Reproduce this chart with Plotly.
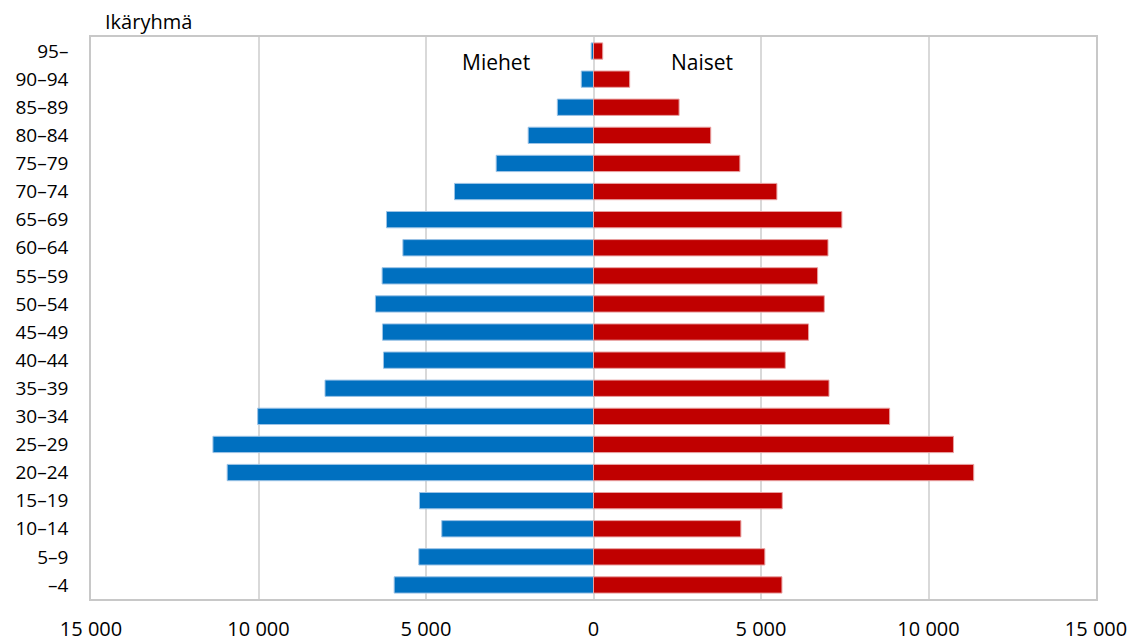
import plotly.graph_objects as go

# Age groups, oldest first (top of the pyramid)
age_groups = ["95–", "90–94", "85–89", "80–84", "75–79", "70–74", "65–69",
              "60–64", "55–59", "50–54", "45–49", "40–44", "35–39", "30–34",
              "25–29", "20–24", "15–19", "10–14", "5–9", "–4"]
men = [70, 365, 1080, 1950, 2905, 4150, 6180,
       5690, 6310, 6510, 6300, 6270, 8015, 10025,
       11360, 10935, 5195, 4530, 5215, 5950]
women = [275, 1080, 2555, 3500, 4370, 5475, 7415,
         7000, 6690, 6890, 6420, 5725, 7030, 8840,
         10745, 11350, 5635, 4400, 5115, 5625]

tick_values = [-15000, -10000, -5000, 0, 5000, 10000, 15000]
tick_labels = ["15 000", "10 000", "5 000", "0", "5 000", "10 000", "15 000"]

FONT = "Open Sans"
BLUE = "#0070c0"
RED = "#c00000"

W, H = 1138, 644
ML, MR, MT, MB = 91, 42, 37, 45

fig = go.Figure()
fig.add_trace(go.Bar(
    y=age_groups, x=[-v for v in men], orientation="h", name="Miehet",
    marker=dict(color=BLUE, line=dict(color="#9cc3e6", width=1)),
    customdata=men, hovertemplate="%{y}: %{customdata}<extra>Miehet</extra>",
))
fig.add_trace(go.Bar(
    y=age_groups, x=women, orientation="h", name="Naiset",
    marker=dict(color=RED, line=dict(color="#e8a0a0", width=1)),
    hovertemplate="%{y}: %{x}<extra>Naiset</extra>",
))

fig.update_layout(
    width=W, height=H,
    margin=dict(l=ML, r=MR, t=MT, b=MB, autoexpand=False),
    paper_bgcolor="white", plot_bgcolor="white",
    barmode="relative", bargap=0.42,
    showlegend=False,
    font=dict(family=FONT, color="#000000"),
    xaxis=dict(
        range=[-15000, 15000], tickvals=tick_values, ticktext=tick_labels,
        showgrid=True, gridcolor="#d9d9d9", gridwidth=1.5,
        zeroline=False, showline=True, linecolor="#c8c8c8", linewidth=1.5,
        mirror=True, ticks="", ticklabelstandoff=11, automargin=False,
        tickfont=dict(size=20, family=FONT, color="#000000"),
        fixedrange=True,
    ),
    yaxis=dict(
        categoryorder="array", categoryarray=age_groups[::-1],
        range=[-0.5, len(age_groups) - 0.5],
        showgrid=False, zeroline=False, showline=True, linecolor="#c8c8c8",
        linewidth=1.5, mirror=True, ticks="", ticklabelstandoff=17,
        automargin=False,
        tickfont=dict(size=19, family=FONT, color="#000000"),
        fixedrange=True,
    ),
    annotations=[
        # Axis header above the category labels
        dict(text="Ikäryhmä", xref="paper", yref="paper",
             x=(148 - ML) / (W - ML - MR), y=1 + (MT - 22) / (H - MT - MB),
             xanchor="center", yanchor="middle",
             showarrow=False, font=dict(size=20, family=FONT)),
        dict(text="Miehet", x=-2900, y="95–", xref="x", yref="y",
             yshift=-11, showarrow=False, font=dict(size=21, family=FONT)),
        dict(text="Naiset", x=3250, y="95–", xref="x", yref="y",
             yshift=-11, showarrow=False, font=dict(size=21, family=FONT)),
    ],
)

fig.write_html("out.html")
